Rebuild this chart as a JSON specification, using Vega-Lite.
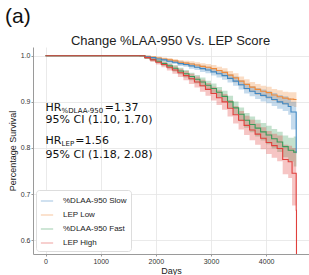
{
  "$schema": "https://vega.github.io/schema/vega-lite/v6.json",
  "autosize": "none",
  "width": 276,
  "height": 207,
  "padding": {"left": 33, "top": 47, "right": 0, "bottom": 21},
  "background": "white",
  "config": {
    "view": {"stroke": null},
    "font": "Liberation Sans",
    "axis": {
      "gridColor": "#e4e4e4", "gridWidth": 0.8,
      "domainColor": "#9a9a9a", "tickColor": "#9a9a9a", "tickSize": 2,
      "labelFontSize": 7, "labelColor": "#333", "labelPadding": 1,
      "titleFontSize": 9, "titleFontWeight": "normal", "titleColor": "#222"
    }
  },
  "datasets": {
    "curves": [
      {"group": "LEP Low", "day": 0, "s": 1.0, "lo": 1.0, "hi": 1.0},
      {"group": "LEP Low", "day": 1700, "s": 1.000, "lo": 0.999, "hi": 1.000},
      {"group": "LEP Low", "day": 1800, "s": 0.999, "lo": 0.997, "hi": 1.000},
      {"group": "LEP Low", "day": 1900, "s": 0.997, "lo": 0.995, "hi": 0.999},
      {"group": "LEP Low", "day": 2000, "s": 0.995, "lo": 0.992, "hi": 0.998},
      {"group": "LEP Low", "day": 2100, "s": 0.993, "lo": 0.990, "hi": 0.996},
      {"group": "LEP Low", "day": 2200, "s": 0.991, "lo": 0.987, "hi": 0.995},
      {"group": "LEP Low", "day": 2300, "s": 0.989, "lo": 0.985, "hi": 0.993},
      {"group": "LEP Low", "day": 2400, "s": 0.986, "lo": 0.981, "hi": 0.991},
      {"group": "LEP Low", "day": 2500, "s": 0.984, "lo": 0.979, "hi": 0.989},
      {"group": "LEP Low", "day": 2600, "s": 0.982, "lo": 0.976, "hi": 0.988},
      {"group": "LEP Low", "day": 2700, "s": 0.980, "lo": 0.974, "hi": 0.986},
      {"group": "LEP Low", "day": 2800, "s": 0.977, "lo": 0.970, "hi": 0.984},
      {"group": "LEP Low", "day": 2900, "s": 0.975, "lo": 0.968, "hi": 0.982},
      {"group": "LEP Low", "day": 3000, "s": 0.972, "lo": 0.964, "hi": 0.980},
      {"group": "LEP Low", "day": 3100, "s": 0.968, "lo": 0.960, "hi": 0.976},
      {"group": "LEP Low", "day": 3200, "s": 0.964, "lo": 0.955, "hi": 0.973},
      {"group": "LEP Low", "day": 3300, "s": 0.958, "lo": 0.949, "hi": 0.967},
      {"group": "LEP Low", "day": 3400, "s": 0.952, "lo": 0.942, "hi": 0.962},
      {"group": "LEP Low", "day": 3500, "s": 0.945, "lo": 0.935, "hi": 0.955},
      {"group": "LEP Low", "day": 3600, "s": 0.938, "lo": 0.927, "hi": 0.949},
      {"group": "LEP Low", "day": 3700, "s": 0.932, "lo": 0.921, "hi": 0.943},
      {"group": "LEP Low", "day": 3800, "s": 0.927, "lo": 0.915, "hi": 0.939},
      {"group": "LEP Low", "day": 3900, "s": 0.923, "lo": 0.911, "hi": 0.935},
      {"group": "LEP Low", "day": 4000, "s": 0.920, "lo": 0.907, "hi": 0.933},
      {"group": "LEP Low", "day": 4100, "s": 0.915, "lo": 0.902, "hi": 0.928},
      {"group": "LEP Low", "day": 4200, "s": 0.911, "lo": 0.897, "hi": 0.925},
      {"group": "LEP Low", "day": 4300, "s": 0.908, "lo": 0.894, "hi": 0.922},
      {"group": "LEP Low", "day": 4400, "s": 0.906, "lo": 0.891, "hi": 0.921},
      {"group": "LEP Low", "day": 4500, "s": 0.905, "lo": 0.889, "hi": 0.921},
      {"group": "LEP Low", "day": 4550, "s": 0.905, "lo": 0.889, "hi": 0.921},

      {"group": "%DLAA-950 Slow", "day": 0, "s": 1.0, "lo": 1.0, "hi": 1.0},
      {"group": "%DLAA-950 Slow", "day": 1700, "s": 1.000, "lo": 0.999, "hi": 1.000},
      {"group": "%DLAA-950 Slow", "day": 1800, "s": 0.998, "lo": 0.996, "hi": 1.000},
      {"group": "%DLAA-950 Slow", "day": 1900, "s": 0.996, "lo": 0.994, "hi": 0.998},
      {"group": "%DLAA-950 Slow", "day": 2000, "s": 0.993, "lo": 0.990, "hi": 0.996},
      {"group": "%DLAA-950 Slow", "day": 2100, "s": 0.991, "lo": 0.988, "hi": 0.994},
      {"group": "%DLAA-950 Slow", "day": 2200, "s": 0.988, "lo": 0.984, "hi": 0.992},
      {"group": "%DLAA-950 Slow", "day": 2300, "s": 0.986, "lo": 0.982, "hi": 0.990},
      {"group": "%DLAA-950 Slow", "day": 2400, "s": 0.983, "lo": 0.978, "hi": 0.988},
      {"group": "%DLAA-950 Slow", "day": 2500, "s": 0.981, "lo": 0.976, "hi": 0.986},
      {"group": "%DLAA-950 Slow", "day": 2600, "s": 0.978, "lo": 0.972, "hi": 0.984},
      {"group": "%DLAA-950 Slow", "day": 2700, "s": 0.975, "lo": 0.969, "hi": 0.981},
      {"group": "%DLAA-950 Slow", "day": 2800, "s": 0.972, "lo": 0.965, "hi": 0.979},
      {"group": "%DLAA-950 Slow", "day": 2900, "s": 0.969, "lo": 0.962, "hi": 0.976},
      {"group": "%DLAA-950 Slow", "day": 3000, "s": 0.965, "lo": 0.957, "hi": 0.973},
      {"group": "%DLAA-950 Slow", "day": 3100, "s": 0.961, "lo": 0.953, "hi": 0.969},
      {"group": "%DLAA-950 Slow", "day": 3200, "s": 0.957, "lo": 0.948, "hi": 0.966},
      {"group": "%DLAA-950 Slow", "day": 3300, "s": 0.951, "lo": 0.942, "hi": 0.960},
      {"group": "%DLAA-950 Slow", "day": 3400, "s": 0.945, "lo": 0.935, "hi": 0.955},
      {"group": "%DLAA-950 Slow", "day": 3500, "s": 0.937, "lo": 0.927, "hi": 0.947},
      {"group": "%DLAA-950 Slow", "day": 3600, "s": 0.929, "lo": 0.918, "hi": 0.940},
      {"group": "%DLAA-950 Slow", "day": 3700, "s": 0.923, "lo": 0.912, "hi": 0.934},
      {"group": "%DLAA-950 Slow", "day": 3800, "s": 0.918, "lo": 0.906, "hi": 0.930},
      {"group": "%DLAA-950 Slow", "day": 3900, "s": 0.914, "lo": 0.901, "hi": 0.927},
      {"group": "%DLAA-950 Slow", "day": 4000, "s": 0.910, "lo": 0.897, "hi": 0.923},
      {"group": "%DLAA-950 Slow", "day": 4100, "s": 0.905, "lo": 0.891, "hi": 0.919},
      {"group": "%DLAA-950 Slow", "day": 4200, "s": 0.900, "lo": 0.885, "hi": 0.915},
      {"group": "%DLAA-950 Slow", "day": 4300, "s": 0.896, "lo": 0.880, "hi": 0.912},
      {"group": "%DLAA-950 Slow", "day": 4400, "s": 0.890, "lo": 0.872, "hi": 0.908},
      {"group": "%DLAA-950 Slow", "day": 4450, "s": 0.878, "lo": 0.840, "hi": 0.900},
      {"group": "%DLAA-950 Slow", "day": 4545, "s": 0.790, "lo": 0.790, "hi": 0.790},
      {"group": "%DLAA-950 Slow", "day": 4550, "s": 0.790, "lo": 0.790, "hi": 0.790},

      {"group": "%DLAA-950 Fast", "day": 0, "s": 1.0, "lo": 1.0, "hi": 1.0},
      {"group": "%DLAA-950 Fast", "day": 1700, "s": 1.000, "lo": 0.999, "hi": 1.000},
      {"group": "%DLAA-950 Fast", "day": 1800, "s": 0.996, "lo": 0.993, "hi": 0.999},
      {"group": "%DLAA-950 Fast", "day": 1900, "s": 0.992, "lo": 0.988, "hi": 0.996},
      {"group": "%DLAA-950 Fast", "day": 2000, "s": 0.988, "lo": 0.984, "hi": 0.992},
      {"group": "%DLAA-950 Fast", "day": 2100, "s": 0.983, "lo": 0.978, "hi": 0.988},
      {"group": "%DLAA-950 Fast", "day": 2200, "s": 0.978, "lo": 0.972, "hi": 0.984},
      {"group": "%DLAA-950 Fast", "day": 2300, "s": 0.973, "lo": 0.966, "hi": 0.980},
      {"group": "%DLAA-950 Fast", "day": 2400, "s": 0.967, "lo": 0.960, "hi": 0.974},
      {"group": "%DLAA-950 Fast", "day": 2500, "s": 0.961, "lo": 0.953, "hi": 0.969},
      {"group": "%DLAA-950 Fast", "day": 2600, "s": 0.955, "lo": 0.947, "hi": 0.963},
      {"group": "%DLAA-950 Fast", "day": 2700, "s": 0.949, "lo": 0.940, "hi": 0.958},
      {"group": "%DLAA-950 Fast", "day": 2800, "s": 0.943, "lo": 0.933, "hi": 0.953},
      {"group": "%DLAA-950 Fast", "day": 2900, "s": 0.936, "lo": 0.926, "hi": 0.946},
      {"group": "%DLAA-950 Fast", "day": 3000, "s": 0.929, "lo": 0.918, "hi": 0.940},
      {"group": "%DLAA-950 Fast", "day": 3100, "s": 0.921, "lo": 0.910, "hi": 0.932},
      {"group": "%DLAA-950 Fast", "day": 3200, "s": 0.912, "lo": 0.900, "hi": 0.924},
      {"group": "%DLAA-950 Fast", "day": 3300, "s": 0.900, "lo": 0.887, "hi": 0.913},
      {"group": "%DLAA-950 Fast", "day": 3400, "s": 0.887, "lo": 0.873, "hi": 0.901},
      {"group": "%DLAA-950 Fast", "day": 3500, "s": 0.873, "lo": 0.858, "hi": 0.888},
      {"group": "%DLAA-950 Fast", "day": 3600, "s": 0.860, "lo": 0.844, "hi": 0.876},
      {"group": "%DLAA-950 Fast", "day": 3700, "s": 0.851, "lo": 0.834, "hi": 0.868},
      {"group": "%DLAA-950 Fast", "day": 3800, "s": 0.843, "lo": 0.825, "hi": 0.861},
      {"group": "%DLAA-950 Fast", "day": 3900, "s": 0.835, "lo": 0.816, "hi": 0.854},
      {"group": "%DLAA-950 Fast", "day": 4000, "s": 0.828, "lo": 0.808, "hi": 0.848},
      {"group": "%DLAA-950 Fast", "day": 4100, "s": 0.820, "lo": 0.799, "hi": 0.841},
      {"group": "%DLAA-950 Fast", "day": 4200, "s": 0.813, "lo": 0.791, "hi": 0.835},
      {"group": "%DLAA-950 Fast", "day": 4300, "s": 0.803, "lo": 0.780, "hi": 0.827},
      {"group": "%DLAA-950 Fast", "day": 4400, "s": 0.795, "lo": 0.770, "hi": 0.822},
      {"group": "%DLAA-950 Fast", "day": 4500, "s": 0.791, "lo": 0.760, "hi": 0.825},
      {"group": "%DLAA-950 Fast", "day": 4550, "s": 0.791, "lo": 0.760, "hi": 0.825},

      {"group": "LEP High", "day": 0, "s": 1.0, "lo": 1.0, "hi": 1.0},
      {"group": "LEP High", "day": 1700, "s": 1.000, "lo": 0.999, "hi": 1.000},
      {"group": "LEP High", "day": 1800, "s": 0.996, "lo": 0.993, "hi": 0.999},
      {"group": "LEP High", "day": 1900, "s": 0.991, "lo": 0.987, "hi": 0.995},
      {"group": "LEP High", "day": 2000, "s": 0.986, "lo": 0.981, "hi": 0.991},
      {"group": "LEP High", "day": 2100, "s": 0.981, "lo": 0.975, "hi": 0.987},
      {"group": "LEP High", "day": 2200, "s": 0.975, "lo": 0.968, "hi": 0.982},
      {"group": "LEP High", "day": 2300, "s": 0.969, "lo": 0.961, "hi": 0.977},
      {"group": "LEP High", "day": 2400, "s": 0.963, "lo": 0.954, "hi": 0.972},
      {"group": "LEP High", "day": 2500, "s": 0.957, "lo": 0.947, "hi": 0.967},
      {"group": "LEP High", "day": 2600, "s": 0.950, "lo": 0.939, "hi": 0.961},
      {"group": "LEP High", "day": 2700, "s": 0.943, "lo": 0.931, "hi": 0.955},
      {"group": "LEP High", "day": 2800, "s": 0.935, "lo": 0.922, "hi": 0.948},
      {"group": "LEP High", "day": 2900, "s": 0.927, "lo": 0.913, "hi": 0.941},
      {"group": "LEP High", "day": 3000, "s": 0.918, "lo": 0.903, "hi": 0.933},
      {"group": "LEP High", "day": 3100, "s": 0.909, "lo": 0.893, "hi": 0.925},
      {"group": "LEP High", "day": 3200, "s": 0.900, "lo": 0.883, "hi": 0.917},
      {"group": "LEP High", "day": 3300, "s": 0.886, "lo": 0.868, "hi": 0.904},
      {"group": "LEP High", "day": 3400, "s": 0.872, "lo": 0.853, "hi": 0.891},
      {"group": "LEP High", "day": 3500, "s": 0.860, "lo": 0.840, "hi": 0.880},
      {"group": "LEP High", "day": 3600, "s": 0.849, "lo": 0.828, "hi": 0.870},
      {"group": "LEP High", "day": 3700, "s": 0.839, "lo": 0.817, "hi": 0.861},
      {"group": "LEP High", "day": 3800, "s": 0.830, "lo": 0.807, "hi": 0.853},
      {"group": "LEP High", "day": 3900, "s": 0.821, "lo": 0.797, "hi": 0.845},
      {"group": "LEP High", "day": 4000, "s": 0.812, "lo": 0.787, "hi": 0.837},
      {"group": "LEP High", "day": 4100, "s": 0.805, "lo": 0.779, "hi": 0.831},
      {"group": "LEP High", "day": 4200, "s": 0.799, "lo": 0.771, "hi": 0.827},
      {"group": "LEP High", "day": 4300, "s": 0.775, "lo": 0.743, "hi": 0.807},
      {"group": "LEP High", "day": 4400, "s": 0.770, "lo": 0.735, "hi": 0.805},
      {"group": "LEP High", "day": 4470, "s": 0.745, "lo": 0.675, "hi": 0.800},
      {"group": "LEP High", "day": 4545, "s": 0.665, "lo": 0.665, "hi": 0.665},
      {"group": "LEP High", "day": 4550, "s": 0.570, "lo": 0.570, "hi": 0.570}
    ],
    "bigtext": [
      {"label": "HR", "day": 0, "s": 0.880},
      {"label": "=1.37", "day": 1075, "s": 0.880},
      {"label": "95% CI (1.10, 1.70)", "day": 0, "s": 0.854},
      {"label": "HR", "day": 0, "s": 0.808},
      {"label": "=1.56", "day": 540, "s": 0.808},
      {"label": "95% CI (1.18, 2.08)", "day": 0, "s": 0.778}
    ],
    "subtext": [
      {"label": "%DLAA-950", "day": 291, "s": 0.8755},
      {"label": "LEP", "day": 291, "s": 0.8035}
    ],
    "titles": [
      {"label": "Change %LAA-950 Vs. LEP Score", "day": 2266, "s": 1.0234}
    ],
    "panel": [
      {"label": "(a)", "day": -734, "s": 1.071}
    ]
  },
  "layer": [
    {
      "data": {"name": "curves"},
      "mark": {"type": "area", "interpolate": "step-after", "opacity": 0.3},
      "encoding": {
        "x": {"field": "day", "type": "quantitative"},
        "y": {"field": "lo", "type": "quantitative"},
        "y2": {"field": "hi"},
        "color": {"field": "group", "type": "nominal"}
      }
    },
    {
      "data": {"name": "curves"},
      "mark": {"type": "line", "interpolate": "step-after", "strokeWidth": 1.1},
      "encoding": {
        "x": {"field": "day", "type": "quantitative", "title": "Days",
              "scale": {"domain": [-227, 4777], "nice": false, "zero": false},
              "axis": {"values": [0, 1000, 2000, 3000, 4000], "format": "d", "titlePadding": 2}},
        "y": {"field": "s", "type": "quantitative", "title": "Percentage Survival",
              "scale": {"domain": [0.57, 1.019], "nice": false, "zero": false},
              "axis": {"values": [0.6, 0.7, 0.8, 0.9, 1.0], "format": ".1f", "titlePadding": 3}},
        "color": {"field": "group", "type": "nominal",
          "scale": {"domain": ["%DLAA-950 Slow", "LEP Low", "%DLAA-950 Fast", "LEP High"],
                    "range": ["#3f87c2", "#ef8a3a", "#3a9a5a", "#e0403c"]},
          "legend": {"title": null, "orient": "bottom-left", "offset": 3, "symbolType": "stroke",
                     "symbolSize": 150, "symbolStrokeWidth": 1.6, "symbolOpacity": 0.6,
                     "labelFontSize": 8, "labelColor": "#222", "labelOffset": 9, "rowPadding": 3,
                     "padding": 4, "fillColor": "white", "strokeColor": "#dddddd", "cornerRadius": 3}}
      }
    },
    {
      "data": {"name": "bigtext"},
      "mark": {"type": "text", "align": "left", "baseline": "alphabetic", "font": "DejaVu Sans", "fontSize": 11, "color": "#111"},
      "encoding": {
        "x": {"field": "day", "type": "quantitative"},
        "y": {"field": "s", "type": "quantitative"},
        "text": {"field": "label"}
      }
    },
    {
      "data": {"name": "subtext"},
      "mark": {"type": "text", "align": "left", "baseline": "alphabetic", "font": "DejaVu Sans", "fontSize": 7, "color": "#111"},
      "encoding": {
        "x": {"field": "day", "type": "quantitative"},
        "y": {"field": "s", "type": "quantitative"},
        "text": {"field": "label"}
      }
    },
    {
      "data": {"name": "titles"},
      "mark": {"type": "text", "align": "center", "baseline": "alphabetic", "font": "Liberation Sans", "fontSize": 13, "color": "#222", "clip": false},
      "encoding": {
        "x": {"field": "day", "type": "quantitative"},
        "y": {"field": "s", "type": "quantitative"},
        "text": {"field": "label"}
      }
    },
    {
      "data": {"name": "panel"},
      "mark": {"type": "text", "align": "left", "baseline": "alphabetic", "font": "Liberation Sans", "fontSize": 21, "color": "#111", "clip": false},
      "encoding": {
        "x": {"field": "day", "type": "quantitative"},
        "y": {"field": "s", "type": "quantitative"},
        "text": {"field": "label"}
      }
    }
  ]
}
